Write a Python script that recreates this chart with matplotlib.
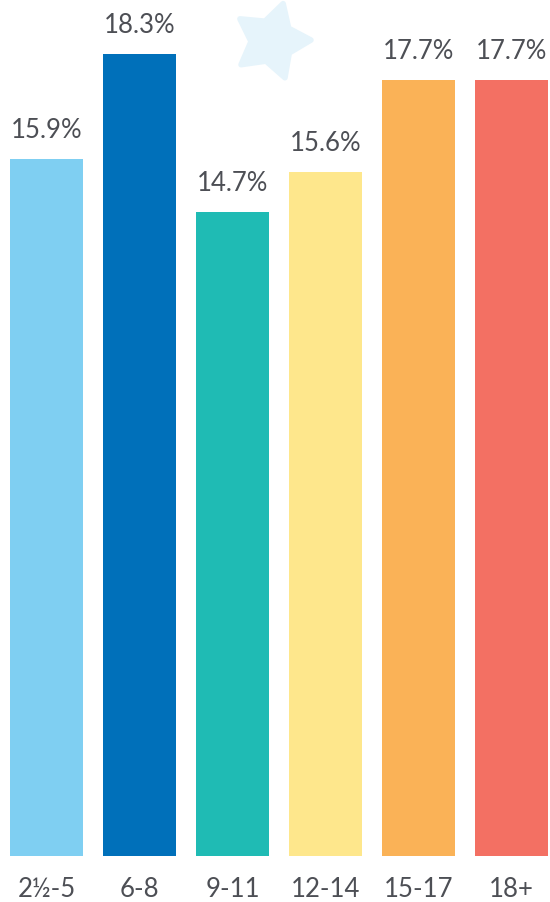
import matplotlib
matplotlib.use("Agg")
import matplotlib.pyplot as plt
import numpy as np
from matplotlib.patches import Polygon

# data
age_groups = ["2½-5", "6-8", "9-11", "12-14", "15-17", "18+"]
shares = [15.9, 18.3, 14.7, 15.6, 17.7, 17.7]
bar_colors = ["#7fcff2", "#0070ba", "#1fbbb4", "#fee78c", "#fab257", "#f37063"]

TEXT_COLOR = "#4d4f55"
FONT = ["Lato", "DejaVu Sans"]
W, H, DPI = 550, 903, 100

fig = plt.figure(figsize=(W / DPI, H / DPI), dpi=DPI)

# decorative star behind the chart (pixel coords, y from top)
cx, cy, r_out, r_in = 272, 42, 39, 21
ang = np.deg2rad(73.4 + np.arange(10) * 36)
rad = np.where(np.arange(10) % 2 == 0, r_out, r_in)
pts = np.column_stack([(cx + rad * np.cos(ang)) / W, 1 - (cy - rad * np.sin(ang)) / H])
fig.patches.append(Polygon(pts, closed=True, transform=fig.transFigure,
                           facecolor="#e6f4fb", edgecolor="#e6f4fb",
                           linewidth=4, joinstyle="round", zorder=0))

bottom_px = 856.5
ax = fig.add_axes([0, (H - bottom_px) / H, 558 / W, bottom_px / H])
ax.set_facecolor("none")
x = np.arange(len(age_groups))
ax.bar(x, shares, width=0.785, color=bar_colors, zorder=2)
ax.set_xlim(-0.5, 5.5)
ax.set_ylim(0, bottom_px / 43.8)

for xi, v in zip(x, shares):
    ax.annotate(f"{v:.1f}%", xy=(xi, v), xytext=(0, 15.8), textcoords="offset points",
                ha="center", va="baseline", fontsize=18.5, color=TEXT_COLOR,
                family=FONT)

ax.set_xticks(x)
ax.set_xticklabels(age_groups, fontsize=18.5, color=TEXT_COLOR, family=FONT, va="baseline")
ax.tick_params(axis="x", length=0, pad=29)
ax.set_yticks([])
for s in ax.spines.values():
    s.set_visible(False)

fig.savefig("out.png", dpi=DPI)
